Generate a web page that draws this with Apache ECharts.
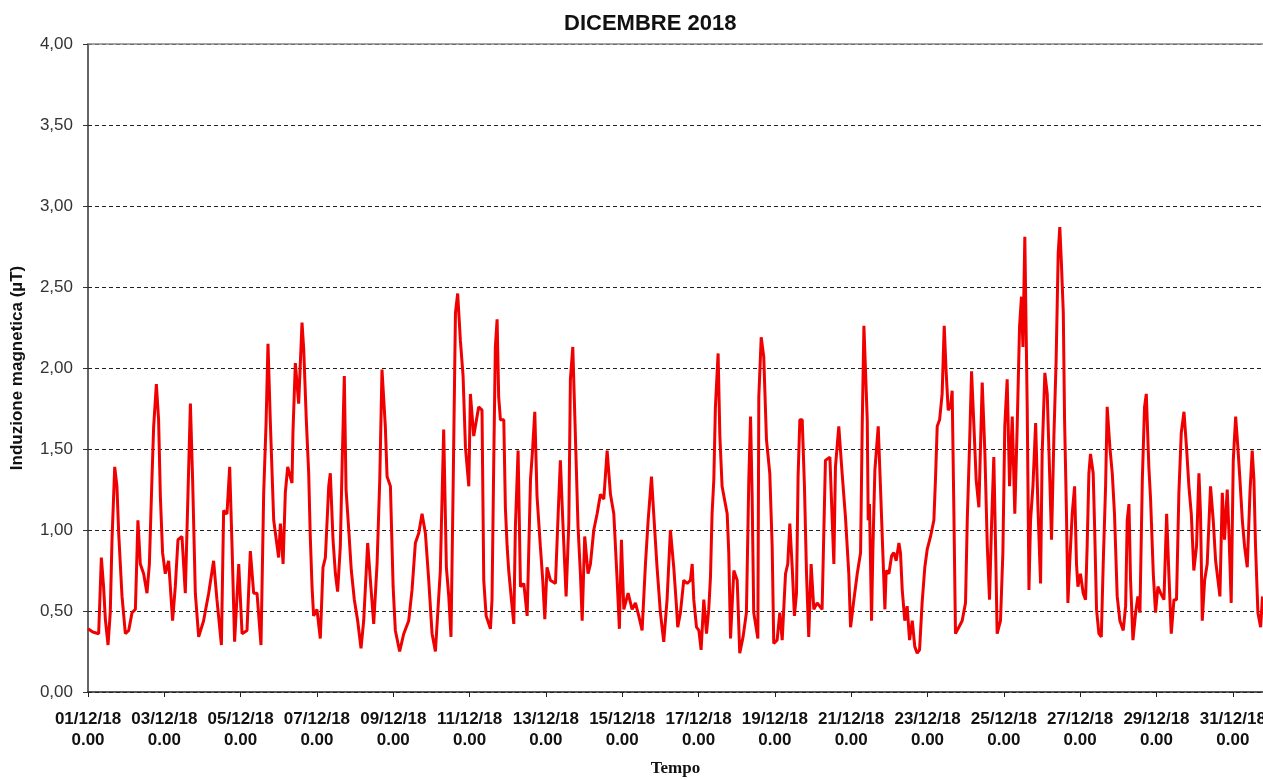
<!DOCTYPE html>
<html>
<head>
<meta charset="utf-8">
<script src="https://cdn.jsdelivr.net/npm/echarts@6/dist/echarts.min.js"></script>
<style>
html,body{margin:0;padding:0;background:#fff;overflow:hidden;}
#chart{width:1263px;height:780px;}
</style>
</head>
<body>
<div id="chart"></div>
<script>
// Time in hours from 01/12/18 0.00
var hours = [
0,3,6.7,8.4,9.8,10.9,12.6,14.0,15.1,16.8,18.2,19.3,21.4,23.5,25.6,27.7,29.8,31.4,32.9,35.0,37.1,38.6,40.2,41.3,43.0,44.4,45.5,46.9,48.6,50.7,53.2,54.9,56.6,59.1,61.2,62.9,64.4,65.8,67.5,69.6,72.7,75.9,79.0,81.1,83.9,85.3,87.4,89.1,90.6,92.2,94.8,96.9,100.0,102.1,104.2,106.3,108.8,110.5,112.0,113.2,114.7,116.8,119.9,
121.0,122.7,124.1,125.6,128.3,128.9,130.4,132.5,134.6,135.7,137.3,138.8,139.8,140.9,141.9,144.0,146.1,147.8,149.3,151.4,152.4,154.1,155.6,157.0,158.7,159.8,161.2,162.3,164.0,165.6,167.5,169.6,171.7,173.4,175.9,177.6,179.7,181.8,183.5,184.9,187.0,188.1,190.2,191.9,193.3,196.0,198.6,201.7,203.8,205.9,208.0,210.1,212.2,214.3,216.4,218.5,221.6,223.7,225.4,226.9,228.3,229.6,231.1,232.5,234.2,235.9,237.4,239.5,240.5,242.6,
245.7,247.8,248.9,250.4,253.1,254.1,255.2,256.2,257.3,258.3,259.4,261.5,262.5,263.6,264.6,266.3,267.8,268.8,270.5,272.0,274.1,276.2,278.3,279.7,281.0,282.4,284.5,286.0,287.3,288.7,290.8,294.0,295.7,297.1,298.6,300.7,302.4,303.4,304.9,306.6,308.2,309.7,310.8,312.4,314.5,316.0,318.1,320.2,322.3,324.4,326.5,328.6,330.7,332.8,334.2,335.5,337.0,339.7,342.2,344.3,346.4,348.5,350.6,352.3,354.4,355.8,357.9,360.0,362.1,364.2,
366.3,368.4,370.1,370.9,372.6,374.7,376.8,378.9,380.0,381.0,382.7,384.2,385.6,387.3,389.0,390.4,391.5,392.5,393.6,394.6,396.3,397.4,398.8,400.3,402.0,403.0,404.1,406.2,408.3,409.9,412.0,414.1,415.6,416.7,417.7,418.7,421.3,421.9,423.4,425.0,426.7,428.8,430.3,431.3,433.4,435.1,436.6,438.7,440.1,441.4,442.9,444.3,445.6,446.6,447.7,449.2,450.6,451.9,453.3,454.8,456.5,458.6,461.7,463.8,466.6,469.1,470.1,472.2,474.3,476.4,478.5,479.6,481.7,483.8,485.9,486.9,488.0,
490.1,490.7,491.5,492.8,493.6,494.9,497.0,498.4,499.9,501.2,502.0,503.7,505.4,506.8,508.3,510.0,511.0,512.1,513.7,515.2,516.7,518.4,520.0,521.5,523.0,524.6,526.3,527.8,529.9,532.0,533.0,534.1,535.6,537.2,538.5,539.7,541.0,542.5,543.5,544.6,545.6,547.7,549.8,551.9,553.0,554.4,555.7,557.2,558.6,560.3,562.4,564.1,565.6,567.0,568.3,569.7,570.8,571.8,573.9,575.4,576.6,578.1,579.6,581.3,582.9,584.4,585.9,587.1,588.0,589.2,590.7,591.8,592.8,594.3,596.0,597.4,599.1,600.1,601.8,603.3,604.8,606.0,607.5,608.9,610.2,611.2,612.2,
613.4,614.2,615.4,616.3,617.5,619.0,620.5,621.7,622.6,624.2,625.9,627.4,628.4,629.5,630.5,632.2,633.1,634.3,635.8,637.3,638.5,640.0,641.0,642.7,644.2,645.6,647.3,649.0,651.1,652.6,653.6,654.7,655.7,657.2,658.9,660.3,661.6,663.1,664.5,665.6,667.2,668.3,670.0,671.4,672.9,674.6,676.7,678.4,679.8,681.3,683.0,684.6,686.1,687.6,689.3,690.9,692.4,693.9,695.5,697.2,698.7,699.7,700.8,702.3,703.9,706.0,707.7,709.2,710.7,711.9,713.4,714.8,716.5,717.6,719.0,720.3,721.8,723.2,724.5,726.0,727.4,729.1,730.8,732.2,733.3,734.3,735.8,737.5,738.7
];
// Induzione magnetica (µT)
var induzione = [
0.39,0.37,0.36,0.83,0.65,0.45,0.29,0.49,0.94,1.39,1.27,0.98,0.59,0.36,0.38,0.49,0.51,1.06,0.79,0.73,0.61,0.79,1.31,1.64,1.90,1.68,1.21,0.86,0.73,0.81,0.44,0.65,0.94,0.96,0.61,1.23,1.78,1.31,0.61,0.34,0.44,0.61,0.81,0.57,0.29,1.12,1.10,1.39,0.90,0.31,0.79,0.36,0.38,0.87,0.61,0.61,0.29,1.23,1.66,2.15,1.66,1.06,0.83,
1.04,0.79,1.23,1.39,1.29,1.60,2.03,1.78,2.28,2.11,1.68,1.35,0.96,0.65,0.47,0.51,0.33,0.77,0.83,1.27,1.35,0.94,0.73,0.62,0.90,1.39,1.95,1.25,1.00,0.75,0.57,0.44,0.27,0.44,0.92,0.69,0.42,0.79,1.31,1.99,1.64,1.33,1.27,0.65,0.38,0.25,0.36,0.44,0.63,0.92,0.98,1.10,0.98,0.69,0.36,0.25,0.75,1.62,0.77,0.59,0.34,1.23,2.34,2.46,2.17,1.95,1.51,1.27,1.84,1.58,
1.76,1.74,0.69,0.47,0.39,0.57,1.43,2.13,2.30,1.82,1.68,1.68,1.14,0.90,0.75,0.57,0.42,1.02,1.49,0.65,0.67,0.47,1.31,1.51,1.73,1.21,0.90,0.69,0.45,0.77,0.69,0.67,1.10,1.43,1.06,0.59,1.04,1.93,2.13,1.56,1.02,0.73,0.44,0.96,0.73,0.79,1.00,1.10,1.22,1.19,1.49,1.22,1.10,0.69,0.39,0.94,0.51,0.61,0.51,0.55,0.47,0.38,0.79,1.06,1.33,1.10,0.77,0.49,0.31,0.57,
1.00,0.77,0.53,0.40,0.49,0.69,0.67,0.69,0.79,0.57,0.40,0.38,0.26,0.57,0.36,0.51,0.71,1.10,1.31,1.76,2.09,1.58,1.27,1.19,1.10,0.86,0.33,0.75,0.69,0.24,0.34,0.49,1.31,1.70,1.21,0.49,0.33,1.82,2.19,2.07,1.56,1.35,0.90,0.30,0.32,0.49,0.32,0.73,0.79,1.04,0.77,0.47,0.61,1.33,1.68,1.68,1.27,0.73,0.34,0.79,0.51,0.55,0.51,1.43,1.45,0.79,1.39,1.64,1.35,1.08,0.73,0.40,0.57,0.73,0.86,1.62,2.26,
1.68,1.06,1.16,0.44,0.86,1.37,1.64,1.27,0.86,0.51,0.75,0.73,0.84,0.86,0.81,0.92,0.86,0.63,0.44,0.53,0.32,0.44,0.28,0.24,0.26,0.55,0.77,0.88,0.96,1.06,1.31,1.64,1.68,1.84,2.26,1.98,1.74,1.76,1.86,1.10,0.36,0.40,0.44,0.55,1.06,1.51,1.98,1.64,1.31,1.14,1.91,1.47,0.90,0.57,1.04,1.45,0.90,0.36,0.44,0.86,1.64,1.93,1.27,1.70,1.10,1.64,2.26,2.44,2.13,2.81,1.76,0.63,1.06,1.27,1.66,1.16,0.67,1.47,1.97,1.84,1.35,0.94,1.58,2.05,2.71,2.87,2.65,
2.34,1.68,1.10,0.55,0.81,1.10,1.27,0.79,0.65,0.73,0.61,0.57,0.90,1.35,1.47,1.35,1.02,0.51,0.36,0.34,0.79,1.27,1.76,1.51,1.35,1.10,0.59,0.44,0.38,0.53,1.06,1.16,0.69,0.32,0.49,0.59,0.49,1.31,1.76,1.84,1.39,1.19,0.73,0.49,0.65,0.61,0.57,1.10,0.73,0.36,0.57,0.57,1.23,1.60,1.73,1.51,1.27,1.10,0.75,0.90,1.35,1.10,0.44,0.69,0.79,1.27,1.06,0.81,0.69,0.59,1.23,0.94,1.25,0.98,0.55,1.43,1.70,1.51,1.31,1.06,0.90,0.77,1.23,1.49,1.31,0.90,0.49,0.40,0.59
];
var titleText = 'DICEMBRE 2018';
var yName = 'Induzione magnetica (µT)';
var xName = 'Tempo';

var seriesData = hours.map(function (h, i) { return [h, induzione[i]]; });

function pad(n) { return (n < 10 ? '0' : '') + n; }

var chart = echarts.init(document.getElementById('chart'), null, { renderer: 'canvas' });
chart.setOption({
  animation: false,
  backgroundColor: '#ffffff',
  title: {
    text: titleText,
    left: 559,
    top: 8,
    textStyle: { fontFamily: 'Liberation Sans, Arial, sans-serif', fontSize: 22, fontWeight: 'bold', color: '#111' }
  },
  grid: { left: 88, right: 0, top: 44, bottom: 88, containLabel: false, outerBoundsMode: 'none' },
  xAxis: [{
    type: 'value',
    min: 0,
    max: 739,
    interval: 48,
    name: xName,
    nameLocation: 'middle',
    nameGap: 68,
    nameMoveOverlap: false,
    nameTextStyle: { fontFamily: 'Liberation Serif, Times New Roman, serif', fontSize: 17, fontWeight: 'bold', color: '#111' },
    axisLine: { show: true, lineStyle: { color: '#222', width: 1.5 } },
    axisTick: { show: true, inside: false, length: 5, lineStyle: { color: '#222' } },
    splitLine: { show: false },
    axisLabel: {
      margin: 17,
      fontFamily: 'Liberation Sans, Arial, sans-serif',
      fontSize: 17,
      fontWeight: 'bold',
      color: '#111',
      lineHeight: 21,
      showMaxLabel: false,
      hideOverlap: false,
      formatter: function (v) {
        if (Math.abs(v / 48 - Math.round(v / 48)) > 1e-6) return '';
        var d = 1 + Math.round(v / 24);
        return pad(d) + '/12/18\n0.00';
      }
    }
  }, {
    type: 'value',
    position: 'top',
    min: 0,
    max: 739,
    axisLine: { show: true, onZero: false, lineStyle: { color: '#888', width: 1.5 } },
    axisTick: { show: false },
    axisLabel: { show: false },
    splitLine: { show: false }
  }],
  yAxis: {
    type: 'value',
    min: 0,
    max: 4,
    interval: 0.5,
    name: yName,
    nameLocation: 'middle',
    nameRotate: 90,
    nameGap: 62,
    nameMoveOverlap: false,
    nameTextStyle: { fontFamily: 'Liberation Sans, Arial, sans-serif', fontSize: 17, fontWeight: 'bold', color: '#111' },
    axisLine: { show: true, lineStyle: { color: '#333', width: 1.5 } },
    axisTick: { show: true, length: 5, lineStyle: { color: '#333' } },
    axisLabel: {
      margin: 15,
      fontFamily: 'Liberation Sans, Arial, sans-serif',
      fontSize: 17,
      color: '#333',
      formatter: function (v) { return v.toFixed(2).replace('.', ','); }
    },
    splitLine: { show: true, lineStyle: { color: '#222', width: 1, type: [4, 3] } }
  },
  series: [{
    type: 'line',
    data: seriesData,
    showSymbol: false,
    symbol: 'none',
    lineStyle: { color: '#f00000', width: 3 },
    itemStyle: { color: '#f00000' }
  }]
});
</script>
</body>
</html>
